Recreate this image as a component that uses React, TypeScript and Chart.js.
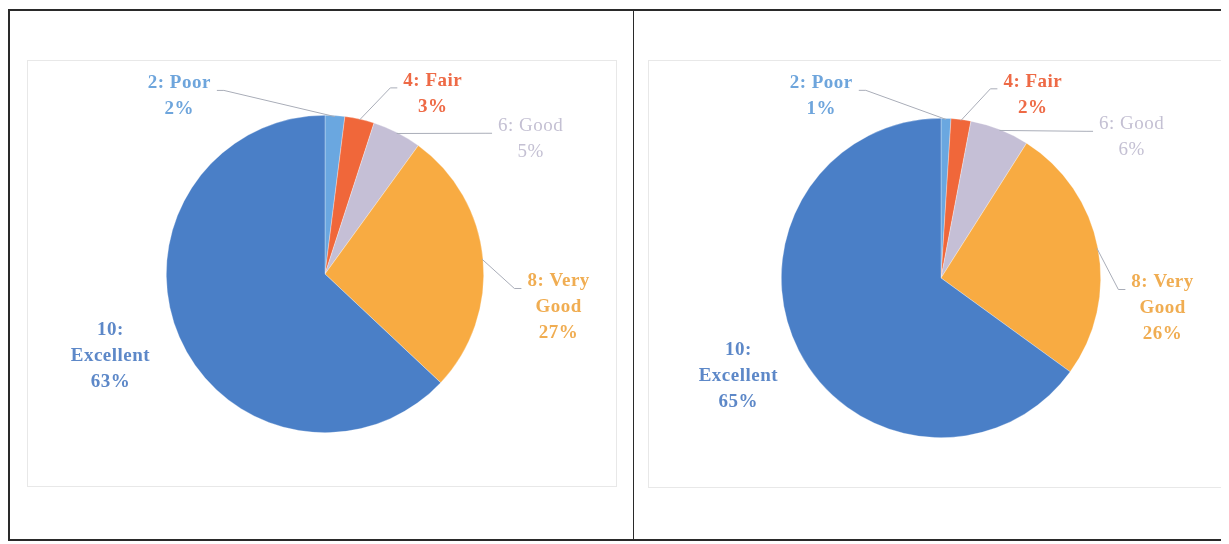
import React, { useEffect, useRef } from 'react';
import { Chart, registerables } from 'chart.js';

Chart.register(...registerables);

// ---------- data ----------
const categories = ['2: Poor', '4: Fair', '6: Good', '8: Very Good', '10: Excellent'];
const leftValues = [2, 3, 5, 27, 63];
const rightValues = [1, 2, 6, 26, 65];

// ---------- styles ----------
const sliceColors = ['#6aa7e0', '#f0673a', '#c5bfd6', '#f8ab42', '#4a7fc7'];
const labelColors = ['#6ea5dc', '#ee6a46', '#c4c0d3', '#f0ad52', '#5d88c8'];
const labelWeights = ['bold', 'bold', 'normal', 'bold', 'bold'];
const leaderFlags = [true, true, true, true, false];

// label block centres, in units of the pie radius, relative to the pie centre
const leftLabelPos: [number, number][] = [
  [-0.918, -1.119],
  [0.679, -1.135],
  [1.296, -0.849],
  [1.472, 0.211],
  [-1.352, 0.516],
];
const rightLabelPos: [number, number][] = [
  [-0.75, -1.1375],
  [0.575, -1.147],
  [1.194, -0.881],
  [1.3875, 0.191],
  [-1.269, 0.6125],
];

function wrapText(ctx: CanvasRenderingContext2D, text: string, maxW: number): string[] {
  const words = text.split(' ');
  const lines: string[] = [];
  let cur = '';
  for (const w of words) {
    const test = cur ? cur + ' ' + w : w;
    if (cur && ctx.measureText(test).width > maxW) {
      lines.push(cur);
      cur = w;
    } else {
      cur = test;
    }
  }
  if (cur) lines.push(cur);
  return lines;
}

const labelPlugin = {
  id: 'excelLabels',
  afterDatasetsDraw(chart: any, _args: any, opts: any) {
    const ctx: CanvasRenderingContext2D = chart.ctx;
    const meta = chart.getDatasetMeta(0);
    const data: number[] = chart.data.datasets[0].data;
    const total = data.reduce((a, b) => a + b, 0);
    const labels: string[] = chart.data.labels;
    meta.data.forEach((arc: any, i: number) => {
      const p = arc.getProps(['x', 'y', 'outerRadius', 'startAngle', 'endAngle'], true);
      const mid = (p.startAngle + p.endAngle) / 2;
      const ax = p.x + Math.cos(mid) * (p.outerRadius - 1);
      const ay = p.y + Math.sin(mid) * (p.outerRadius - 1);
      const [fx, fy] = opts.positions[i];
      const lx = p.x + fx * p.outerRadius;
      const ly = p.y + fy * p.outerRadius;
      ctx.save();
      ctx.font = `${labelWeights[i]} 19px "Liberation Serif", "Times New Roman", serif`;
      (ctx as any).letterSpacing = '0.5px';
      const pct = Math.round((data[i] / total) * 100);
      const lines = wrapText(ctx, labels[i], 80).concat([`${pct}%`]);
      const lh = 26;
      const top = ly - ((lines.length - 1) * lh) / 2;
      const w0 = ctx.measureText(lines[0]).width;
      if (leaderFlags[i]) {
        const side = ax > lx ? 1 : -1;
        const sx = lx + side * (w0 / 2 + 6);
        const sy = top + 7;
        ctx.beginPath();
        ctx.moveTo(sx, sy);
        ctx.lineTo(sx + side * 7, sy);
        ctx.lineTo(ax, ay);
        ctx.strokeStyle = '#a9adb8';
        ctx.lineWidth = 1;
        ctx.stroke();
      }
      ctx.fillStyle = labelColors[i];
      ctx.textAlign = 'center';
      ctx.textBaseline = 'middle';
      lines.forEach((t, k) => ctx.fillText(t, lx, top + k * lh));
      ctx.restore();
    });
  },
};

function PieChart(props: {
  values: number[];
  positions: [number, number][];
  width: number;
  height: number;
  padding: { top: number; bottom: number; left: number; right: number };
}) {
  const ref = useRef<HTMLCanvasElement>(null);
  useEffect(() => {
    if (!ref.current) return;
    const chart = new Chart(ref.current, {
      type: 'pie',
      data: {
        labels: categories,
        datasets: [
          {
            data: props.values,
            backgroundColor: sliceColors,
            borderColor: 'rgba(255,255,255,0.5)',
            borderWidth: 0.6,
          },
        ],
      },
      options: {
        animation: false,
        responsive: false,
        layout: { padding: props.padding },
        plugins: {
          legend: { display: false },
          tooltip: { enabled: false },
          excelLabels: { positions: props.positions },
        } as any,
      },
      plugins: [labelPlugin as any],
    });
    return () => chart.destroy();
  }, []);
  return <canvas ref={ref} width={props.width} height={props.height} style={{ display: 'block' }} />;
}

export default function App() {
  const line = '#2a2a2a';
  return (
    <div style={{ position: 'relative', width: 1221, height: 533, background: '#fff' }}>
      {/* table borders */}
      <div style={{ position: 'absolute', left: 0, top: 1, width: 1221, height: 2, background: line }} />
      <div style={{ position: 'absolute', left: 0, top: 1, width: 1.5, height: 531, background: line }} />
      <div style={{ position: 'absolute', left: 625, top: 1, width: 1.2, height: 531, background: line }} />
      <div style={{ position: 'absolute', left: 0, top: 531, width: 1221, height: 1.5, background: line }} />
      {/* left chart frame */}
      <div
        style={{
          position: 'absolute',
          left: 19,
          top: 52,
          width: 588,
          height: 425,
          border: '1px solid #e8e8e8',
        }}
      >
        <PieChart
          values={leftValues}
          positions={leftLabelPos}
          width={588}
          height={425}
          padding={{ top: 54, bottom: 53, left: 6, right: 0 }}
        />
      </div>
      {/* right chart frame */}
      <div
        style={{
          position: 'absolute',
          left: 640,
          top: 52,
          width: 575,
          height: 426,
          border: '1px solid #e8e8e8',
        }}
      >
        <PieChart
          values={rightValues}
          positions={rightLabelPos}
          width={575}
          height={426}
          padding={{ top: 57, bottom: 49, left: 9, right: 0 }}
        />
      </div>
    </div>
  );
}
